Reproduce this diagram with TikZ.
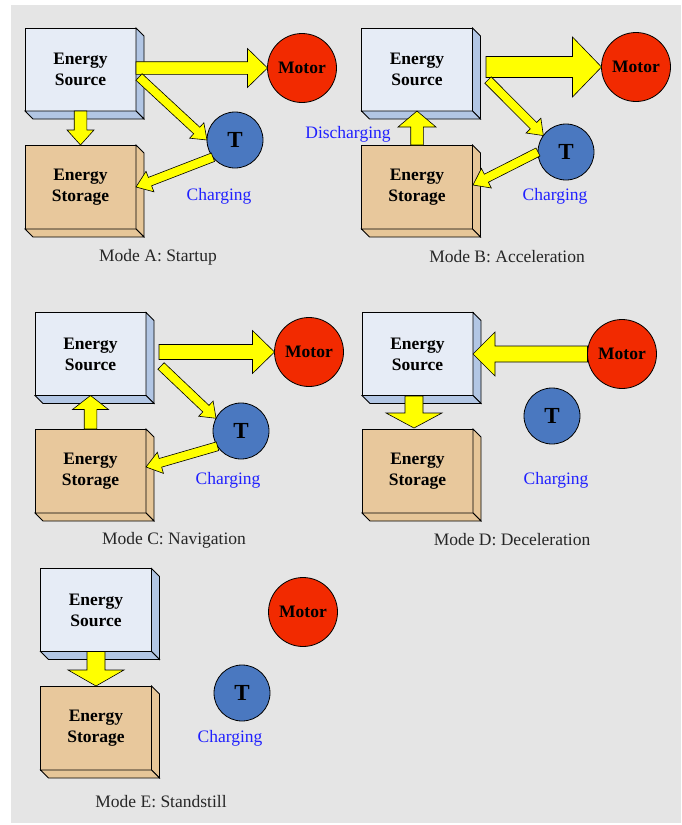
\documentclass[tikz,border=0pt]{standalone}
\usepackage{fontspec}
\setmainfont{Liberation Serif}
\usetikzlibrary{calc}
\definecolor{bggray}{HTML}{E5E5E5}
\definecolor{srcfront}{HTML}{E6ECF6}
\definecolor{srcside}{HTML}{B2C6E4}
\definecolor{stofront}{HTML}{E8C89C}
\definecolor{stoside}{HTML}{E6C698}
\definecolor{motred}{HTML}{F22A00}
\definecolor{tblue}{HTML}{4A78C0}
\definecolor{chblue}{HTML}{2020FF}
\definecolor{arrowyel}{HTML}{FFFF00}
\newcommand\boxfont{\fontsize{17.5}{21}\selectfont\bfseries}
\newcommand\capfont{\fontsize{17.5}{20}\selectfont}
\newcommand\tfont{\fontsize{23}{26}\selectfont\bfseries}
\tikzset{
  ebox/.style={draw=black, line width=0.8pt, minimum width=111pt, minimum height=83pt,
    inner sep=0pt, outer sep=0pt, align=center, font=\boxfont},
  srcbox/.style={ebox, fill=srcfront},
  stobox/.style={ebox, fill=stofront, minimum height=84pt},
  motor/.style={circle, draw=black, line width=0.8pt, fill=motred, minimum size=69pt,
    inner sep=0pt, outer sep=0pt, font=\boxfont},
  tnode/.style={circle, draw=black, line width=0.8pt, fill=tblue, minimum size=56pt,
    inner sep=0pt, outer sep=0pt, font=\tfont},
  chlabel/.style={text=chblue, font=\capfont, inner sep=0pt},
  caplabel/.style={text=black!85, font=\capfont, inner sep=0pt},
  barrowsty/.style={fill=arrowyel, draw=black, line width=0.6pt, line join=miter}
}
% block arrow: tail, tip, shaft half-width, head half-width, head length
\newcommand\barrow[5]{%
  \path ($(#2)!#5pt!(#1)$) coordinate (bh);
  \filldraw[barrowsty] ($(#1)!#3pt!90:(#2)$) -- ($(bh)!#3pt!90:(#2)$) -- ($(bh)!#4pt!90:(#2)$)
    -- (#2) -- ($(bh)!#4pt!-90:(#2)$) -- ($(bh)!#3pt!-90:(#2)$) -- ($(#1)!#3pt!-90:(#2)$) -- cycle;}
% 3D depth of a box
\newcommand\boxdepth[2]{%
  \filldraw[fill=#2, draw=black, line width=0.8pt, line join=miter]
    (#1.north east) -- ++(8,8) -- ($(#1.south east)+(8,8)$) -- (#1.south east) -- cycle;
  \filldraw[fill=#2, draw=black, line width=0.8pt, line join=miter]
    (#1.south west) -- ++(8,8) -- ($(#1.south east)+(8,8)$) -- (#1.south east) -- cycle;}
\begin{document}
\begin{tikzpicture}[x=1pt,y=-1pt]
\useasboundingbox (0,0) rectangle (681,825);
\fill[bggray] (11,5) rectangle (681,823);

% ---------------- Mode A
\node[srcbox] (srcA) at (80.5,69.5) {Energy\\Source};
\node[stobox] (stoA) at (80.5,187) {Energy\\Storage};
\boxdepth{srcA}{srcside}
\boxdepth{stoA}{stoside}
\node[motor] (motA) at (302,68) {Motor};
\node[tnode] (tA) at (235,140) {T};
\node[chlabel] (chA) at (219,196) {Charging};
\node[caplabel] (capA) at (158,257) {Mode A: Startup};
\coordinate (a1s) at (136,68);
\coordinate (a2s) at (139,77);
\barrow{a1s}{motA.west}{6.3}{19.5}{20}
\barrow{a2s}{tA.west}{4.5}{10.5}{14}
\barrow{srcA.south}{stoA.north}{6.3}{13.5}{15}
\barrow{tA.218}{stoA.east}{4.5}{11}{15}

% ---------------- Mode B
\node[srcbox] (srcB) at (417,69.5) {Energy\\Source};
\node[stobox] (stoB) at (417,187) {Energy\\Storage};
\boxdepth{srcB}{srcside}
\boxdepth{stoB}{stoside}
\node[motor] (motB) at (636,67) {Motor};
\node[tnode] (tB) at (566,152) {T};
\node[chlabel] (chB) at (555,196) {Charging};
\node[chlabel] (dchB) at (348,134) {Discharging};
\node[caplabel] (capB) at (507,257) {Mode B: Acceleration};
\coordinate (b1s) at (486,67);
\coordinate (b2s) at (488,80);
\coordinate (b4e) at (473,185);
\barrow{b1s}{motB.west}{10.5}{30}{29}
\barrow{b2s}{tB.144}{4.5}{10.5}{14}
\barrow{stoB.north}{srcB.south}{6.3}{19}{16}
\barrow{tB.west}{b4e}{4.5}{11}{15}

% ---------------- Mode C
\node[srcbox] (srcC) at (90.5,354) {Energy\\Source};
\node[stobox] (stoC) at (90.5,471) {Energy\\Storage};
\boxdepth{srcC}{srcside}
\boxdepth{stoC}{stoside}
\node[motor] (motC) at (309,352) {Motor};
\node[tnode] (tC) at (241,431) {T};
\node[chlabel] (chC) at (228,480) {Charging};
\node[caplabel] (capC) at (174,540) {Mode C: Navigation};
\coordinate (c1s) at (159,352);
\coordinate (c2s) at (161,366);
\coordinate (c4e) at (146,467);
\barrow{c1s}{motC.west}{7.5}{21.5}{22}
\barrow{c2s}{tC.153}{4.5}{10.5}{14}
\barrow{stoC.north}{srcC.south}{6.3}{18}{14}
\barrow{tC.213}{c4e}{4.5}{11}{15}

% ---------------- Mode D
\node[srcbox] (srcD) at (417.5,354) {Energy\\Source};
\node[stobox] (stoD) at (417.5,471) {Energy\\Storage};
\boxdepth{srcD}{srcside}
\boxdepth{stoD}{stoside}
\node[motor] (motD) at (622,354) {Motor};
\node[tnode] (tD) at (552,416) {T};
\node[chlabel] (chD) at (556,480) {Charging};
\node[caplabel] (capD) at (512,540) {Mode D: Deceleration};
\coordinate (d2s) at (414,396);
\coordinate (d2e) at (414,428);
\barrow{motD.west}{srcD.east}{8}{22}{22}
\barrow{d2s}{d2e}{9}{28}{15}

% ---------------- Mode E
\node[srcbox] (srcE) at (96,610) {Energy\\Source};
\node[stobox] (stoE) at (96,728) {Energy\\Storage};
\boxdepth{srcE}{srcside}
\boxdepth{stoE}{stoside}
\node[motor] (motE) at (303,612) {Motor};
\node[tnode] (tE) at (242,693) {T};
\node[chlabel] (chE) at (230,738) {Charging};
\node[caplabel] (capE) at (161,802) {Mode E: Standstill};
\barrow{srcE.south}{stoE.north}{9}{28}{16}
\end{tikzpicture}
\end{document}
